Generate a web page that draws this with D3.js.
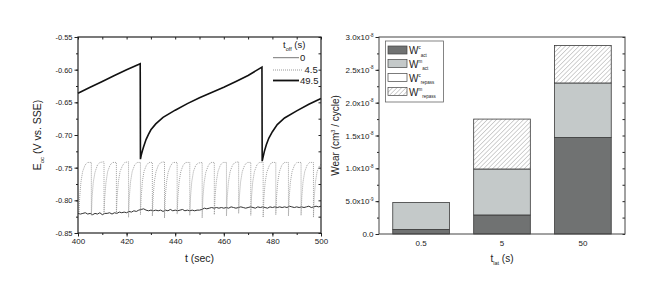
<!DOCTYPE html>
<html>
<head>
<meta charset="utf-8">
<script src="https://cdn.jsdelivr.net/npm/d3@7"></script>
<style>
  body { margin: 0; background: #fff; }
  svg { font-family: "Liberation Sans", Arial, sans-serif; }
</style>
</head>
<body>
<svg id="chart" width="660" height="295"></svg>
<script>
// ---- left panel data: E_oc vs t for three t_off values ----
const legendLabels = ["0", "4.5", "49.5"];

// t_off = 0 (continuous rubbing), noisy baseline
const series0 = [
  [400, -0.820], [401, -0.821], [402, -0.820], [403, -0.819], [404, -0.821], [405, -0.820],
  [406, -0.822], [407, -0.820], [408, -0.821], [409, -0.819], [410, -0.822], [411, -0.820],
  [412, -0.820], [413, -0.819], [414, -0.821], [415, -0.819], [416, -0.820], [417, -0.818],
  [418, -0.819], [419, -0.818], [420, -0.819], [421, -0.817], [422, -0.818], [423, -0.816],
  [424, -0.817], [425, -0.815], [426, -0.814], [427, -0.813], [428, -0.815], [429, -0.816],
  [430, -0.815], [431, -0.816], [432, -0.815], [433, -0.816], [434, -0.815], [435, -0.817],
  [436, -0.815], [437, -0.816], [438, -0.814], [439, -0.816], [440, -0.815], [441, -0.816],
  [442, -0.815], [443, -0.814], [444, -0.816], [445, -0.815], [446, -0.816], [447, -0.815],
  [448, -0.816], [449, -0.815], [450, -0.815], [451, -0.814], [452, -0.812], [453, -0.813],
  [454, -0.812], [455, -0.811], [456, -0.812], [457, -0.811], [458, -0.812], [459, -0.811],
  [460, -0.812], [461, -0.811], [462, -0.812], [463, -0.810], [464, -0.811], [465, -0.812],
  [466, -0.811], [467, -0.810], [468, -0.811], [469, -0.812], [470, -0.811], [471, -0.810],
  [472, -0.811], [473, -0.812], [474, -0.810], [475, -0.811], [476, -0.810], [477, -0.811],
  [478, -0.812], [479, -0.810], [480, -0.811], [481, -0.810], [482, -0.811], [483, -0.810],
  [484, -0.811], [485, -0.810], [486, -0.811], [487, -0.809], [488, -0.810], [489, -0.811],
  [490, -0.810], [491, -0.811], [492, -0.810], [493, -0.811], [494, -0.810], [495, -0.809],
  [496, -0.811], [497, -0.810], [498, -0.809], [499, -0.810], [500, -0.809]
];

// t_off = 4.5 s, short recovery cycles
const series45 = [
  [400.4, -0.821], [400.7, -0.795], [401.2, -0.772], [401.9, -0.756], [402.9, -0.746], [403.9, -0.742], [405.5, -0.742],
  [405.5, -0.823], [405.8, -0.795], [406.3, -0.772], [407.0, -0.757], [408.0, -0.746], [409.0, -0.742], [410.7, -0.741],
  [410.7, -0.822], [411.0, -0.796], [411.5, -0.773], [412.2, -0.756], [413.2, -0.746], [414.2, -0.742], [415.8, -0.742],
  [415.8, -0.820], [416.1, -0.795], [416.6, -0.772], [417.3, -0.756], [418.3, -0.747], [419.3, -0.742], [420.8, -0.741],
  [420.8, -0.826], [421.1, -0.796], [421.6, -0.772], [422.3, -0.756], [423.3, -0.746], [424.3, -0.742], [425.7, -0.742],
  [425.7, -0.822], [426.0, -0.795], [426.5, -0.771], [427.2, -0.755], [428.2, -0.746], [429.2, -0.742], [430.6, -0.742],
  [430.6, -0.824], [430.9, -0.796], [431.4, -0.772], [432.1, -0.756], [433.1, -0.746], [434.1, -0.742], [435.6, -0.741],
  [435.6, -0.827], [435.9, -0.796], [436.4, -0.773], [437.1, -0.757], [438.1, -0.747], [439.1, -0.742], [440.8, -0.742],
  [440.8, -0.821], [441.1, -0.795], [441.6, -0.772], [442.3, -0.756], [443.3, -0.746], [444.3, -0.742], [446.0, -0.742],
  [446.0, -0.823], [446.3, -0.795], [446.8, -0.772], [447.5, -0.756], [448.5, -0.746], [449.5, -0.743], [451.1, -0.742],
  [451.1, -0.827], [451.4, -0.796], [451.9, -0.773], [452.6, -0.757], [453.6, -0.747], [454.6, -0.742], [456.1, -0.742],
  [456.1, -0.822], [456.4, -0.795], [456.9, -0.772], [457.6, -0.756], [458.6, -0.746], [459.6, -0.742], [461.1, -0.742],
  [461.1, -0.824], [461.4, -0.796], [461.9, -0.772], [462.6, -0.756], [463.6, -0.746], [464.6, -0.742], [466.1, -0.741],
  [466.1, -0.820], [466.4, -0.795], [466.9, -0.772], [467.6, -0.756], [468.6, -0.746], [469.6, -0.742], [471.1, -0.742],
  [471.1, -0.823], [471.4, -0.795], [471.9, -0.772], [472.6, -0.756], [473.6, -0.746], [474.6, -0.742], [476.2, -0.742],
  [476.2, -0.826], [476.5, -0.796], [477.0, -0.773], [477.7, -0.757], [478.7, -0.747], [479.7, -0.742], [481.4, -0.742],
  [481.4, -0.822], [481.7, -0.795], [482.2, -0.772], [482.9, -0.756], [483.9, -0.746], [484.9, -0.742], [486.6, -0.742],
  [486.6, -0.824], [486.9, -0.796], [487.4, -0.772], [488.1, -0.756], [489.1, -0.746], [490.1, -0.742], [491.8, -0.742],
  [491.8, -0.823], [492.1, -0.795], [492.6, -0.772], [493.3, -0.756], [494.3, -0.746], [495.3, -0.742], [496.9, -0.742],
  [496.9, -0.826], [497.2, -0.796], [497.7, -0.772], [498.4, -0.756], [499.4, -0.747], [500.0, -0.745]
];

// t_off = 49.5 s, long recovery cycles
const series495 = [
  [400, -0.636], [405, -0.627], [410, -0.618], [415, -0.609], [420, -0.600], [425.6, -0.591],
  [425.7, -0.737], [426.0, -0.731], [426.5, -0.724], [427, -0.718], [428, -0.707], [429, -0.699],
  [430, -0.692], [432, -0.683], [435, -0.673], [440, -0.662], [445, -0.652], [450, -0.643],
  [455, -0.635], [460, -0.627], [465, -0.618], [470, -0.609], [475.7, -0.596],
  [475.8, -0.740], [476.2, -0.733], [476.7, -0.725], [477.5, -0.715], [478.5, -0.705], [480, -0.695],
  [482, -0.684], [485, -0.674], [490, -0.663], [495, -0.653], [500, -0.644]
];

// ---- right panel data: wear per cycle, stacked ----
const tLat = ["0.5", "5", "50"];
const wcAct = [0.07e-8, 0.29e-8, 1.47e-8];
const wmAct = [0.41e-8, 0.70e-8, 0.83e-8];
const wcRepass = [0, 0, 0];
const wmRepass = [0, 0.76e-8, 0.57e-8];
const yTicksLeft = [-0.85, -0.80, -0.75, -0.70, -0.65, -0.60, -0.55];
const xTicksLeft = [400, 420, 440, 460, 480, 500];
const yTicksRight = [0, 0.5e-8, 1.0e-8, 1.5e-8, 2.0e-8, 2.5e-8, 3.0e-8];

const svg = d3.select("#chart");
const ink = "#222";

const defs = svg.append("defs");
const hatch = defs.append("pattern")
  .attr("id", "hatch")
  .attr("patternUnits", "userSpaceOnUse")
  .attr("width", 3.2).attr("height", 3.2)
  .attr("patternTransform", "rotate(45)");
hatch.append("rect").attr("width", 3.2).attr("height", 3.2).attr("fill", "#fff");
hatch.append("line").attr("x1", 0).attr("y1", 0).attr("x2", 0).attr("y2", 3.2)
  .attr("stroke", "#9a9a9a").attr("stroke-width", 0.9);

function styleAxis(g, size) {
  g.attr("font-family", null).attr("font-size", size);
  g.select(".domain").remove();
  g.selectAll("line").attr("stroke", ink);
  g.selectAll("text").attr("fill", ink);
}

// ================= left panel =================
const L = { x0: 78, x1: 321, y0: 37, y1: 233 };
const xL = d3.scaleLinear().domain([400, 500]).range([L.x0, L.x1]);
const yL = d3.scaleLinear().domain([-0.85, -0.55]).range([L.y1, L.y0]);

const left = svg.append("g");
const minorX = d3.range(400, 501, 10);
const minorY = d3.range(-0.85, -0.549, 0.025);

left.append("g").attr("transform", `translate(0,${L.y1})`)
  .call(d3.axisBottom(xL).tickValues(minorX).tickSize(2).tickFormat(""))
  .call(g => styleAxis(g, 8));
left.append("g").attr("transform", `translate(0,${L.y1})`)
  .call(d3.axisBottom(xL).tickValues(xTicksLeft).tickSize(3.5).tickPadding(2))
  .call(g => styleAxis(g, 8));
left.append("g").attr("transform", `translate(0,${L.y0})`)
  .call(d3.axisBottom(xL).tickValues(minorX).tickSize(2.5).tickFormat(""))
  .call(g => styleAxis(g, 8));
left.append("g").attr("transform", `translate(${L.x0},0)`)
  .call(d3.axisLeft(yL).tickValues(minorY).tickSize(2).tickFormat(""))
  .call(g => styleAxis(g, 8));
left.append("g").attr("transform", `translate(${L.x0},0)`)
  .call(d3.axisLeft(yL).tickValues(yTicksLeft).tickSize(3.5).tickPadding(2)
    .tickFormat(d => d.toFixed(2)))
  .call(g => styleAxis(g, 7.5));
left.append("g").attr("transform", `translate(${L.x1},0)`)
  .call(d3.axisLeft(yL).tickValues(minorY).tickSize(2.5).tickFormat(""))
  .call(g => styleAxis(g, 8));

const line = d3.line().x(d => xL(d[0])).y(d => yL(d[1]));

left.append("path").datum(series0)
  .attr("fill", "none").attr("stroke", "#333").attr("stroke-width", 1)
  .attr("d", line);
left.append("path").datum(series45)
  .attr("fill", "none").attr("stroke", "#8c8c8c").attr("stroke-width", 0.8)
  .attr("stroke-dasharray", "1,1").attr("d", line);
left.append("path").datum(series495)
  .attr("fill", "none").attr("stroke", "#111").attr("stroke-width", 1.6)
  .attr("d", line);

left.append("rect")
  .attr("x", L.x0).attr("y", L.y0)
  .attr("width", L.x1 - L.x0).attr("height", L.y1 - L.y0)
  .attr("fill", "none").attr("stroke", ink).attr("stroke-width", 1.2);

// legend (left)
const lt = left.append("text").attr("x", 283).attr("y", 48)
  .attr("font-size", 9.5).attr("fill", ink);
lt.append("tspan").text("t");
lt.append("tspan").attr("font-size", 5.5).attr("dy", 2.5).text("off");
lt.append("tspan").attr("dy", -2.5).text(" (s)");

const legStyles = [
  { stroke: "#777", width: 1, dash: null, y: 57.7, tx: 300 },
  { stroke: "#8c8c8c", width: 0.9, dash: "1,1", y: 70, tx: 304.5 },
  { stroke: "#111", width: 1.8, dash: null, y: 80.5, tx: 300 }
];
legendLabels.forEach((lab, i) => {
  const s = legStyles[i];
  left.append("line")
    .attr("x1", 273).attr("x2", i === 1 ? 303 : 299)
    .attr("y1", s.y).attr("y2", s.y)
    .attr("stroke", s.stroke).attr("stroke-width", s.width)
    .attr("stroke-dasharray", s.dash);
  left.append("text").attr("x", s.tx).attr("y", s.y + 3.3)
    .attr("font-size", 9.5).attr("fill", ink).text(lab);
});

// axis titles (left)
left.append("text").attr("x", (L.x0 + L.x1) / 2).attr("y", 262)
  .attr("text-anchor", "middle").attr("font-size", 10.5).attr("fill", ink)
  .text("t (sec)");
const ly = left.append("text")
  .attr("transform", `translate(41,${(L.y0 + L.y1) / 2}) rotate(-90)`)
  .attr("text-anchor", "middle").attr("font-size", 10.5).attr("fill", ink);
ly.append("tspan").text("E");
ly.append("tspan").attr("font-size", 6).attr("dy", 2.5).text("oc");
ly.append("tspan").attr("dy", -2.5).text(" (V vs. SSE)");

// ================= right panel =================
const R = { x0: 379, x1: 625, y0: 37, y1: 234 };
const xR = d3.scaleBand().domain(tLat).range([R.x0, R.x1])
  .paddingInner(0.3).paddingOuter(0.17);
const yR = d3.scaleLinear().domain([0, 3e-8]).range([R.y1, R.y0]);

const right = svg.append("g");
const minorYR = d3.range(0, 3.01e-8, 0.25e-8);

function wearLabel(d) {
  if (d === 0) return ["0.0", null];
  const exp = Math.floor(Math.log10(d) + 1e-9);
  return [(d / Math.pow(10, exp)).toFixed(1) + "x10", String(exp)];
}

right.append("g").attr("transform", `translate(${R.x0},0)`)
  .call(d3.axisLeft(yR).tickValues(minorYR).tickSize(2).tickFormat(""))
  .call(g => styleAxis(g, 8));
right.append("g").attr("transform", `translate(${R.x0},0)`)
  .call(d3.axisLeft(yR).tickValues(yTicksRight).tickSize(3.5).tickPadding(2).tickFormat(""))
  .call(g => styleAxis(g, 8))
  .call(g => g.selectAll(".tick").each(function (d) {
    const [base, exp] = wearLabel(d);
    const t = d3.select(this).append("text")
      .attr("x", -5.5).attr("dy", "0.32em")
      .attr("text-anchor", "end").attr("font-size", 8).attr("fill", ink);
    t.append("tspan").text(base);
    if (exp) {
      t.append("tspan").attr("font-size", 4.5).attr("dy", -3.5).text(exp);
    }
  }));
right.append("g").attr("transform", `translate(${R.x1},0)`)
  .call(d3.axisLeft(yR).tickValues(minorYR).tickSize(2.5).tickFormat(""))
  .call(g => styleAxis(g, 8));
right.append("g").attr("transform", `translate(0,${R.y1})`)
  .call(d3.axisBottom(xR).tickSize(0).tickPadding(6))
  .call(g => styleAxis(g, 8));

const keys = ["wcAct", "wmAct", "wcRepass", "wmRepass"];
const rows = tLat.map((c, i) => ({
  cat: c, wcAct: wcAct[i], wmAct: wmAct[i], wcRepass: wcRepass[i], wmRepass: wmRepass[i]
}));
const stacked = d3.stack().keys(keys)(rows);
const fills = { wcAct: "#707272", wmAct: "#c4c9c9", wcRepass: "#ffffff", wmRepass: "url(#hatch)" };

right.append("g").selectAll("g").data(stacked).join("g")
  .attr("fill", d => fills[d.key])
  .selectAll("rect").data(d => d.filter(p => p[1] - p[0] > 0)).join("rect")
  .attr("x", d => xR(d.data.cat))
  .attr("width", xR.bandwidth())
  .attr("y", d => yR(d[1]))
  .attr("height", d => yR(d[0]) - yR(d[1]))
  .attr("stroke", "#3a3a3a").attr("stroke-width", 0.8);

right.append("rect")
  .attr("x", R.x0).attr("y", R.y0)
  .attr("width", R.x1 - R.x0).attr("height", R.y1 - R.y0)
  .attr("fill", "none").attr("stroke", "#444").attr("stroke-width", 1);

// legend (right)
const leg = right.append("g");
leg.append("rect").attr("x", 385.5).attr("y", 41).attr("width", 58).attr("height", 61)
  .attr("fill", "#fff").attr("stroke", "#666").attr("stroke-width", 0.8);
const legNames = [["c", "act"], ["m", "act"], ["c", "repass"], ["m", "repass"]];
const legY = [50, 63.5, 77.5, 91.5];
keys.forEach((k, i) => {
  leg.append("rect").attr("x", 388).attr("y", legY[i] - 4).attr("width", 19).attr("height", 8)
    .attr("fill", fills[k]).attr("stroke", "#444").attr("stroke-width", 0.7);
  const t = leg.append("text").attr("x", 409).attr("y", legY[i] + 4)
    .attr("font-size", 10).attr("fill", ink);
  t.append("tspan").text("W");
  t.append("tspan").attr("font-size", 4.5).attr("dy", -5).text(legNames[i][0]);
  t.append("tspan").attr("font-size", 4.5).attr("dy", 7.5).text(legNames[i][1]);
});

// axis titles (right)
const rx = right.append("text").attr("x", (R.x0 + R.x1) / 2).attr("y", 262)
  .attr("text-anchor", "middle").attr("font-size", 10).attr("fill", ink);
rx.append("tspan").text("t");
rx.append("tspan").attr("font-size", 5.5).attr("dy", 2.5).text("lat");
rx.append("tspan").attr("dy", -2.5).text(" (s)");
const ry = right.append("text")
  .attr("transform", `translate(339,${(R.y0 + R.y1) / 2}) rotate(-90)`)
  .attr("text-anchor", "middle").attr("font-size", 10).attr("fill", ink);
ry.append("tspan").text("Wear (cm");
ry.append("tspan").attr("font-size", 5.5).attr("dy", -4).text("3");
ry.append("tspan").attr("dy", 4).text(" / cycle)");
</script>
</body>
</html>
